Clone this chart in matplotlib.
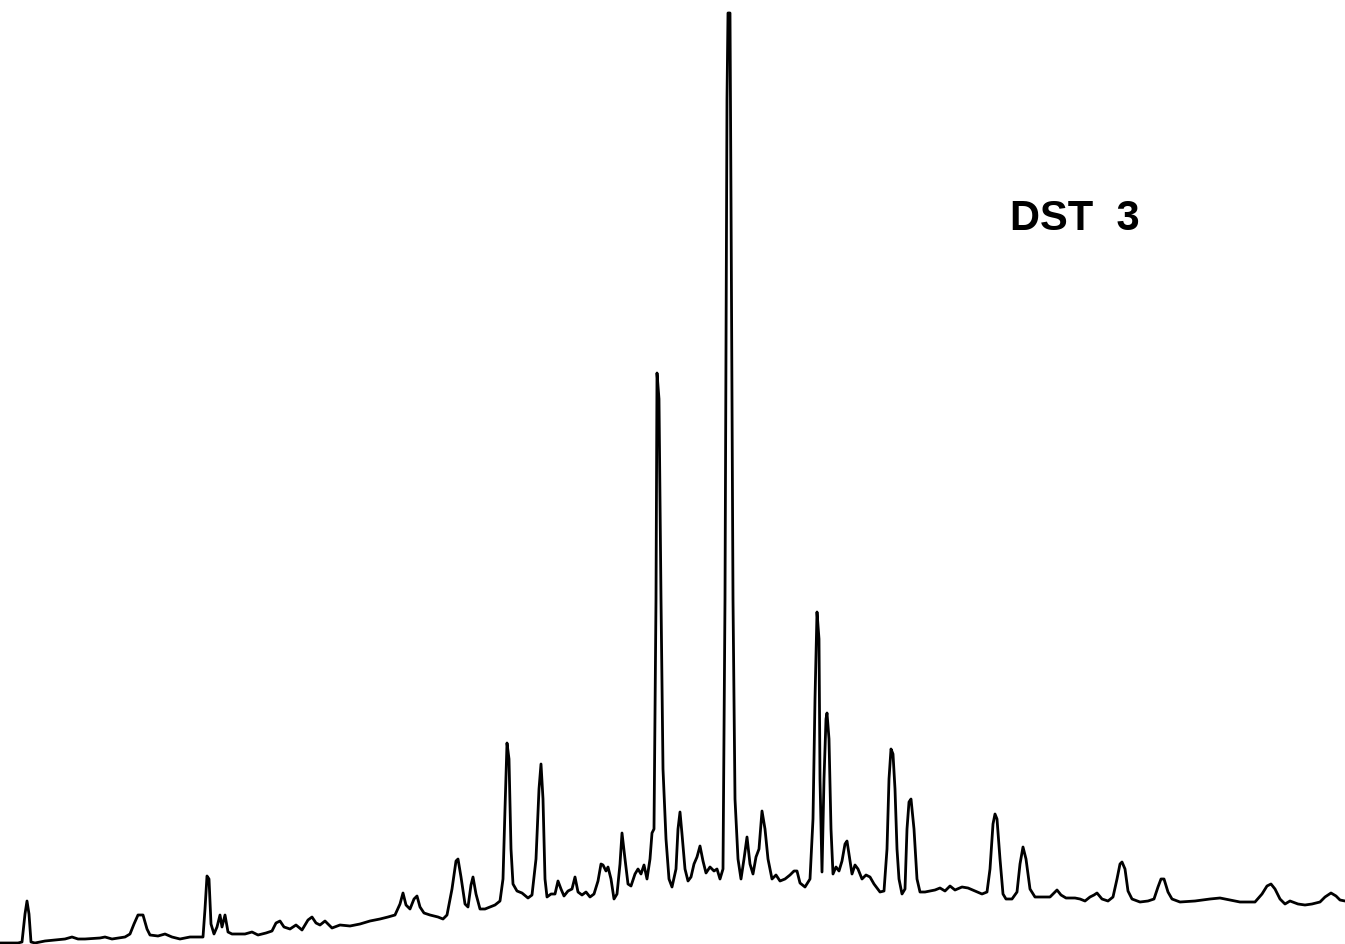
import matplotlib
matplotlib.use("Agg")
import matplotlib.pyplot as plt

# Chromatogram trace of sample DST 3 (retention position, detector response; arbitrary units)
retention = [
    0, 18, 22, 25, 27, 29, 31, 35, 45, 55, 65, 72, 78, 85, 100, 105, 112, 125, 130, 134,
    138, 143, 147, 150, 158, 165, 172, 180, 190, 203, 205, 207, 209, 211, 214, 217, 220, 222, 225, 228,
    232, 245, 252, 258, 266, 272, 276, 280, 284, 290, 296, 302, 308, 312, 316, 320, 325, 332, 340, 350,
    360, 370, 380, 388, 395, 400, 403, 406, 410, 414, 417, 420, 424, 430, 438, 443, 447, 452, 456, 458,
    461, 465, 468, 471, 473, 476, 480, 485, 490, 495, 500, 503, 505, 507, 509, 511, 513, 517, 522, 528,
    532, 536, 539, 541, 543, 545, 547, 551, 555, 558, 561, 564, 568, 572, 575, 578, 582, 586, 590, 594,
    598, 601, 603, 606, 608, 611, 614, 617, 620, 622, 625, 628, 631, 635, 638, 641, 644, 647, 650, 652,
    654, 656, 657, 659, 661, 663, 666, 669, 672, 676, 678, 680, 682, 685, 688, 691, 694, 697, 700, 703,
    706, 710, 714, 717, 720, 723, 725, 727, 728, 730, 731, 733, 735, 738, 741, 744, 747, 750, 753, 756,
    759, 762, 765, 768, 772, 776, 780, 785, 790, 794, 797, 800, 805, 810, 813, 815, 817, 819, 820, 822,
    824, 826, 827, 829, 831, 833, 836, 839, 842, 845, 847, 849, 852, 855, 858, 862, 866, 870, 874, 880,
    884, 887, 889, 891, 893, 895, 897, 899, 902, 905, 907, 909, 911, 914, 917, 920, 925, 930, 935, 940,
    945, 950, 955, 962, 968, 975, 982, 987, 990, 993, 995, 997, 1000, 1003, 1006, 1012, 1017, 1020, 1023, 1026,
    1030, 1035, 1045, 1050, 1054, 1057, 1061, 1066, 1075, 1080, 1085, 1090, 1094, 1097, 1102, 1108, 1113, 1117, 1120, 1122,
    1125, 1128, 1132, 1140, 1148, 1154, 1158, 1161, 1164, 1168, 1172, 1180, 1195, 1210, 1220, 1230, 1240, 1255, 1262, 1267,
    1271, 1275, 1280, 1285, 1290, 1298, 1305, 1312, 1320, 1325, 1331, 1336, 1340, 1345,
]

response = [
    1, 1, 2, 30, 43, 30, 2, 1, 3, 4, 5, 7, 5, 5, 6, 7, 5, 7, 10, 20,
    29, 29, 15, 9, 8, 10, 7, 5, 7, 7, 35, 68, 65, 20, 10, 17, 29, 17, 29, 12,
    10, 10, 12, 9, 11, 13, 21, 23, 17, 15, 19, 14, 24, 27, 21, 19, 23, 16, 19, 18,
    20, 23, 25, 27, 29, 40, 51, 39, 35, 45, 48, 37, 31, 29, 27, 25, 29, 55, 83, 85,
    67, 40, 37, 59, 67, 50, 35, 35, 37, 39, 43, 65, 135, 201, 185, 95, 60, 53, 51, 46,
    49, 85, 155, 180, 145, 65, 47, 50, 50, 63, 55, 48, 53, 55, 67, 52, 49, 52, 47, 50,
    63, 80, 79, 73, 77, 65, 45, 50, 80, 111, 85, 60, 58, 70, 75, 70, 79, 65, 85, 111,
    115, 345, 571, 545, 345, 175, 105, 65, 57, 75, 115, 132, 110, 75, 63, 67, 80, 87, 98, 83,
    71, 77, 73, 75, 65, 75, 345, 845, 931, 931, 745, 345, 145, 85, 65, 85, 107, 80, 70, 87,
    95, 133, 115, 85, 65, 69, 63, 65, 69, 73, 73, 61, 57, 65, 125, 245, 332, 305, 165, 72,
    165, 225, 231, 205, 115, 70, 77, 73, 83, 100, 103, 90, 70, 79, 75, 65, 69, 67, 60, 52,
    53, 95, 165, 195, 190, 155, 95, 65, 50, 55, 115, 142, 145, 115, 65, 52, 52, 53, 54, 56,
    53, 58, 54, 57, 56, 53, 50, 52, 75, 120, 130, 125, 85, 50, 45, 45, 52, 80, 97, 85,
    55, 47, 47, 47, 51, 54, 49, 46, 46, 45, 43, 47, 49, 51, 45, 43, 47, 65, 80, 82,
    75, 53, 45, 42, 43, 45, 57, 65, 65, 52, 45, 42, 43, 45, 46, 44, 42, 42, 50, 58,
    60, 55, 45, 40, 43, 40, 39, 40, 42, 47, 51, 48, 44, 43,
]

sample_label = "DST  3"

fig = plt.figure(figsize=(13.45, 9.45), dpi=100)
ax = fig.add_axes([0, 0, 1, 1])
ax.plot(retention, response, color="black", linewidth=2.0, solid_joinstyle="round")
ax.set_xlim(0, 1345)
ax.set_ylim(0, 945)
ax.axis("off")

ax.text(1010, 715, sample_label, fontsize=30, fontweight="bold",
        family="Liberation Sans", ha="left", va="baseline", color="black")

fig.savefig("out.png", dpi=100, facecolor="white")
